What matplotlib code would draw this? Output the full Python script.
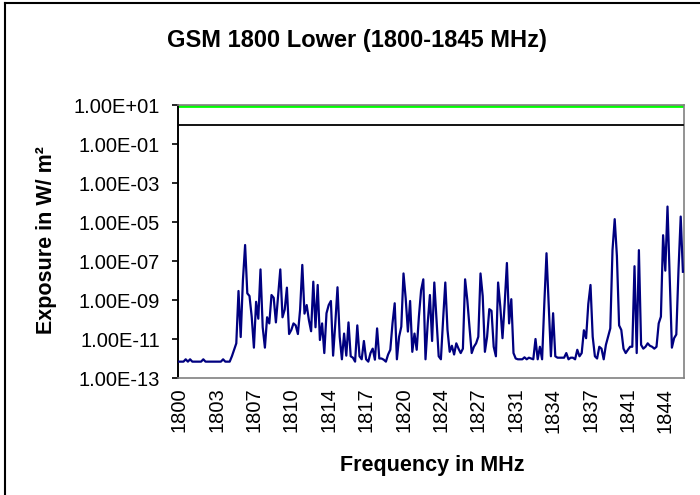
import matplotlib
matplotlib.use("Agg")
import matplotlib.pyplot as plt
import numpy as np
from matplotlib.ticker import FixedLocator, FuncFormatter

plt.rcParams['font.family'] = ['Liberation Sans', 'DejaVu Sans']

# frequency grid, 0.2 MHz steps
freq = np.round(1800 + 0.2 * np.arange(230), 1)

exposure = [
    6.9e-13, 6.9e-13, 6.9e-13, 9.1e-13, 6.9e-13, 9.1e-13, 6.9e-13, 6.9e-13, 6.9e-13, 6.9e-13,
    6.9e-13, 9.1e-13, 6.9e-13, 6.9e-13, 6.9e-13, 6.9e-13, 6.9e-13, 6.9e-13, 6.9e-13, 6.9e-13,
    9.1e-13, 6.9e-13, 6.9e-13, 6.9e-13, 1.3e-12, 2.8e-12, 6.0e-12, 2.9e-9, 1.26e-11, 1.0e-8,
    6.6e-7, 2.2e-9, 1.6e-9, 1.4e-10, 3.6e-12, 8.1e-10, 1.1e-10, 3.7e-8, 4.0e-11, 3.6e-12,
    1.3e-10, 6.3e-11, 1.8e-9, 1.3e-9, 7.1e-11, 1.6e-9, 3.7e-8, 1.3e-10, 3.2e-10, 4.3e-9,
    1.8e-11, 2.9e-11, 6.3e-11, 5.0e-11, 1.8e-11, 3.2e-10, 6.3e-8, 2.0e-10, 5.5e-10, 9.3e-11,
    2.5e-11, 8.7e-9, 4.0e-11, 5.9e-9, 8.9e-12, 6.3e-11, 1.9e-12, 2.1e-10, 5.5e-10, 8.9e-10,
    1.4e-12, 6.3e-11, 4.5e-9, 1.3e-11, 9.1e-13, 1.9e-11, 1.4e-12, 7.1e-11, 1.3e-12, 1.1e-12,
    6.9e-13, 5.0e-11, 1.3e-12, 9.1e-13, 7.9e-12, 9.1e-13, 6.9e-13, 1.9e-12, 3.2e-12, 8.7e-13,
    3.5e-11, 1.0e-12, 1.0e-12, 8.7e-13, 6.9e-13, 1.6e-12, 2.8e-12, 6.3e-11, 6.8e-10, 9.1e-13,
    1.3e-11, 4.3e-11, 2.3e-8, 1.2e-9, 2.4e-11, 8.9e-10, 2.2e-12, 1.9e-11, 2.8e-12, 1.4e-10,
    3.2e-9, 1.15e-8, 9.1e-13, 6.3e-11, 1.8e-9, 7.9e-12, 7.9e-9, 1.0e-10, 1.3e-12, 9.1e-13,
    1.0e-10, 7.9e-9, 2.9e-11, 2.2e-12, 4.5e-12, 1.6e-12, 6.0e-12, 3.2e-12, 1.9e-12, 3.2e-12,
    1.15e-8, 1.0e-9, 4.0e-11, 1.9e-12, 4.0e-12, 6.0e-12, 1.3e-11, 2.3e-8, 1.6e-9, 2.2e-12,
    1.3e-11, 3.4e-10, 2.8e-10, 4.0e-12, 1.3e-12, 7.9e-9, 4.5e-10, 1.1e-11, 6.8e-10, 7.9e-8,
    6.3e-11, 1.1e-9, 1.9e-12, 1.0e-12, 9.1e-13, 9.1e-13, 9.1e-13, 1.15e-12, 9.1e-13, 1.1e-12,
    1.0e-12, 9.1e-13, 1.0e-11, 9.1e-13, 4.0e-12, 9.1e-13, 6.3e-10, 2.5e-7, 5.5e-10, 1.3e-12,
    2.1e-10, 1.3e-12, 1.1e-12, 1.1e-12, 1.1e-12, 1.1e-12, 1.9e-12, 9.1e-13, 1.1e-12, 1.1e-12,
    9.1e-13, 2.8e-12, 1.3e-12, 1.9e-12, 2.8e-11, 1.1e-11, 6.3e-10, 5.9e-9, 1.3e-11, 1.3e-12,
    1.0e-12, 4.0e-12, 3.2e-12, 9.1e-13, 5.0e-12, 1.3e-11, 3.5e-11, 3.6e-7, 1.4e-5, 1.8e-7,
    5.0e-11, 2.9e-11, 3.2e-12, 1.9e-12, 2.8e-12, 4.0e-12, 4.0e-12, 5.4e-8, 1.9e-12, 3.6e-7,
    5.0e-12, 3.2e-12, 4.0e-12, 6.0e-12, 4.5e-12, 4.0e-12, 3.2e-12, 4.0e-12, 6.3e-11, 1.4e-10,
    2.1e-6, 3.2e-8, 6.2e-5, 1.6e-8, 3.6e-12, 1.1e-11, 1.7e-11, 3.5e-8, 1.9e-5, 2.8e-8,
]

# reference levels (W/m2)
limite_verde = [8.5] * len(freq)
limite_preto = [0.9] * len(freq)

fig = plt.figure(figsize=(7, 4.95), dpi=100)
ax = fig.add_axes([178/700, 1 - 378/495, 506/700, 273/495])

ax.plot(freq, limite_verde, color='#00FF00', linewidth=2.0, zorder=2)
ax.plot(freq, limite_preto, color='black', linewidth=1.3, zorder=3)
ax.plot(freq, exposure, color='#000080', linewidth=1.6, zorder=4)

ax.set_yscale('log')
ax.set_ylim(1e-13, 1e1)
ax.set_xlim(freq[0] - 0.1, freq[-1] + 0.1)

yticks = [10.0**e for e in range(-13, 2, 2)]
ax.yaxis.set_major_locator(FixedLocator(yticks))
ax.yaxis.set_minor_locator(FixedLocator([]))
ax.yaxis.set_major_formatter(FuncFormatter(lambda v, p: f"{v:.2E}"))

ax.set_xticks(freq[::17])
ax.set_xticklabels([f"{f:.0f}" for f in freq[::17]], rotation=90)

ax.tick_params(axis='y', direction='out', length=4, width=1.2, pad=9, labelsize=14.5, colors='black')
ax.tick_params(axis='x', length=0, pad=7, labelsize=14.5)

for s in ['top', 'right', 'bottom']:
    ax.spines[s].set_color('#808080')
    ax.spines[s].set_linewidth(1.2)
ax.spines['left'].set_color('black')
ax.spines['left'].set_linewidth(1.4)

fig.text(357/700, 1 - 40/495, 'GSM 1800 Lower (1800-1845 MHz)', ha='center', va='center',
         fontsize=17, fontweight='bold')
fig.text(432/700, 1 - 466/495, 'Frequency in MHz', ha='center', va='center',
         fontsize=15.5, fontweight='bold')
fig.text(47/700, 1 - 240/495, 'Exposure in W/ m²', ha='center', va='center', rotation=90,
         fontsize=15.5, fontweight='bold')

# outer chart border
fig.add_artist(plt.Line2D([5/700, 5/700], [0, 1 - 3/495], color='black', linewidth=1.5))
fig.add_artist(plt.Line2D([5/700, 1], [1 - 3/495, 1 - 3/495], color='black', linewidth=1.5))

plt.savefig('out.png', dpi=100)
plt.close()
